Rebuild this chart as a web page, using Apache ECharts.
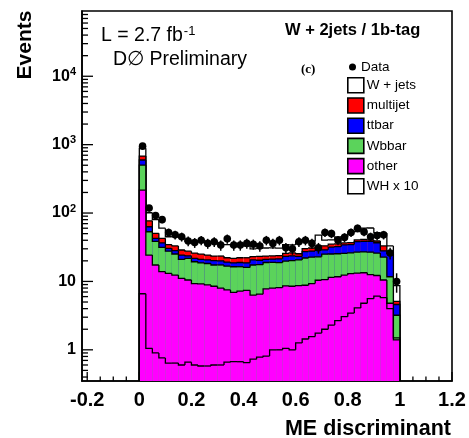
<!DOCTYPE html>
<html>
<head>
<meta charset="utf-8">
<script src="https://cdn.jsdelivr.net/npm/echarts@6/dist/echarts.min.js"></script>
<style>
  html, body { margin: 0; padding: 0; background: #fff; }
  #chart { width: 469px; height: 438px; }
</style>
</head>
<body>
<div id="chart"></div>
<script>
// Histogram binning of the ME discriminant: 40 bins from 0 to 1
const binLow = 0;
const binWidth = 0.025;

// Observed events per bin
const dataCounts = [950, 118, 92, 80, 52, 48, 45, 39, 37, 40, 36, 38, 34, 42, 34, 34, 36, 35, 33, 40,
                    36, 40, 31, 30, 38, 40, 36, 31, 52, 50, 40, 44, 52, 60, 53, 45, 47, 48, 26, 10];

// Expected background per bin, one array per sample (stacked bottom to top)
const otherBkg = [217, 24.3, 17.4, 13.9, 13.1, 12.4, 11.1, 10.5, 9.3, 9.2, 8.9, 8.5, 8.0, 7.5, 6.9, 7.2, 7.4, 6.3, 6.5, 7.8,
                  8.0, 8.1, 8.6, 8.5, 8.7, 8.8, 9.3, 10.4, 10.6, 11.5, 11.7, 12.4, 13.0, 13.2, 13.4, 12.6, 12.2, 10.5, 4.8, 1.4];
const wbbBkg = [286, 29.0, 21.1, 17.5, 14.6, 12.8, 9.9, 11.3, 10.1, 9.5, 9.4, 8.9, 9.4, 9.2, 9.5, 9.2, 8.6, 11.1, 11.1, 11.1,
                11.0, 10.7, 11.2, 11.7, 11.9, 13.2, 13.4, 12.5, 14.4, 13.7, 13.7, 13.4, 13.2, 13.7, 13.6, 14.2, 13.8, 12.2, 6.9, 1.8];
const ttbarBkg = [93, 9.7, 4.2, 5.1, 2.8, 3.0, 3.3, 1.9, 2.4, 2.3, 2.3, 2.8, 2.6, 2.5, 2.3, 2.5, 2.7, 3.2, 2.8, 2.1,
                  2.2, 2.6, 3.5, 3.4, 2.6, 5.3, 5.1, 5.9, 4.0, 6.6, 6.8, 8.5, 8.4, 11.4, 11.6, 11.6, 10.8, 5.3, 14.0, 1.4];
const multijetBkg = [85, 14.0, 7.8, 6.2, 4.0, 4.8, 4.5, 4.0, 4.2, 4.1, 3.7, 3.3, 3.5, 3.0, 3.1, 3.3, 3.5, 2.4, 2.8, 2.5,
                     2.4, 2.4, 2.5, 2.6, 2.2, 2.9, 3.0, 4.0, 4.2, 3.2, 3.2, 2.3, 2.4, 2.2, 2.4, 2.2, 2.2, 5.0, 1.8, 0.5];
const wjetsBkg = [202, 24.0, 29.5, 17.3, 10.5, 12.0, 15.2, 10.8, 12.5, 13.4, 12.2, 13.0, 11.0, 12.3, 11.2, 10.8, 10.8, 7.0, 7.3, 7.3,
                  7.4, 6.8, 8.7, 8.0, 13.1, 8.6, 7.7, 14.9, 7.1, 5.5, 9.2, 8.2, 16.0, 13.0, 19.0, 19.8, 12.5, 18.0, 5.5, 3.6];

// WH signal scaled by 10, drawn as an outline
const whTimes10 = [6.6, 1.05, 0.90, 0.76, 0.64, 0.64, 0.60, 0.66, 0.60, 0.58, 0.58, 0.60, 0.60, 0.66, 0.67, 0.67, 0.65, 0.73, 0.78, 0.81,
                   1.0, 1.0, 1.05, 1.0, 1.26, 1.44, 1.56, 1.76, 2.0, 2.3, 2.67, 3.05, 3.45, 4.1, 4.8, 5.6, 6.1, 5.8, 4.0, 1.5];

// Axis ranges and tick labels
const X_MIN = -0.22, X_MAX = 1.2;
const Y_MIN = 0.35, Y_MAX = 9e4;
const xTickLabels = [-0.2, 0, 0.2, 0.4, 0.6, 0.8, 1, 1.2];
const yTickLabels = [1, 10, 100, 1000, 10000];

const FONT = 'Liberation Sans, Arial, Helvetica, sans-serif';
const nBins = dataCounts.length;

// Minor tick positions (0.05 steps on x, 2..9 per decade on y)
const xMinorTicks = [];
for (let k = -4; k <= 24; k++) {
  if (k % 4 !== 0) xMinorTicks.push(+(k * 0.05).toFixed(2));
}
const yMinorTicks = [];
for (let d = -1; d <= 4; d++) {
  for (let m = 2; m <= 9; m++) {
    const v = m * Math.pow(10, d);
    if (v > Y_MIN && v < Y_MAX) yMinorTicks.push(v);
  }
}

// Stacked samples, bottom first
const layers = [
  { name: 'other',    color: '#ff00ff', values: otherBkg },
  { name: 'Wbbar',    color: '#5bd35b', values: wbbBkg },
  { name: 'ttbar',    color: '#0000ff', values: ttbarBkg },
  { name: 'multijet', color: '#ff0000', values: multijetBkg },
  { name: 'W + jets', color: '#ffffff', values: wjetsBkg }
];
let running = new Array(nBins).fill(0);
layers.forEach(l => {
  running = running.map((s, i) => s + l.values[i]);
  l.tops = running.slice();
});

function binEdges(i) {
  const x0 = binLow + i * binWidth;
  return [x0, x0 + binWidth];
}

// Each bin: filled column down to the axis floor plus the step outline
function histSeries(name, color, tops, filled) {
  return {
    type: 'custom',
    name: name,
    silent: true,
    itemStyle: { color: color },
    encode: { x: [0, 1], y: [2, 3] },
    data: tops.map((v, i) => {
      const e = binEdges(i);
      return [e[0], e[1], v, i > 0 ? tops[i - 1] : Y_MIN];
    }),
    renderItem: function (params, api) {
      const x0 = api.value(0), x1 = api.value(1);
      const top = api.value(2), prev = api.value(3);
      const pA = api.coord([x0, top]);
      const pB = api.coord([x1, top]);
      const pBase = api.coord([x1, Y_MIN]);
      const pPrev = api.coord([x0, prev]);
      const children = [];
      if (filled) {
        children.push({
          type: 'rect',
          shape: { x: pA[0], y: pA[1], width: pB[0] - pA[0], height: pBase[1] - pA[1] },
          style: { fill: color, stroke: null }
        });
      }
      const pts = [pPrev, pA, pB];
      if (params.dataIndex === tops.length - 1) pts.push(pBase);
      children.push({
        type: 'polyline',
        shape: { points: pts },
        style: { stroke: '#000', lineWidth: 1.3, fill: null }
      });
      return { type: 'group', children: children };
    }
  };
}

// Axis tick marks drawn inward from the left and bottom frame
const tickSeries = {
  type: 'custom',
  silent: true,
  encode: { x: 0, y: 1 },
  data: [[X_MIN, Y_MIN]],
  renderItem: function (params, api) {
    const lines = [];
    const add = (p, dx, dy) => lines.push({
      type: 'line',
      shape: { x1: p[0], y1: p[1], x2: p[0] + dx, y2: p[1] + dy },
      style: { stroke: '#000', lineWidth: 1.3 }
    });
    yTickLabels.forEach(v => add(api.coord([X_MIN, v]), 11, 0));
    yMinorTicks.forEach(v => add(api.coord([X_MIN, v]), 6, 0));
    xTickLabels.forEach(v => add(api.coord([v, Y_MIN]), 0, -9));
    xMinorTicks.forEach(v => add(api.coord([v, Y_MIN]), 0, -4.5));
    return { type: 'group', children: lines };
  }
};

// Data points with Poisson error bars and bin-width horizontal bars
const dataSeries = {
  type: 'custom',
  name: 'Data',
  silent: true,
  itemStyle: { color: '#000' },
  encode: { x: 0, y: 1 },
  data: dataCounts.map((n, i) => [binLow + (i + 0.5) * binWidth, n]),
  renderItem: function (params, api) {
    const xc = api.value(0), n = api.value(1);
    const err = Math.sqrt(n);
    const c = api.coord([xc, n]);
    const lo = api.coord([xc, Math.max(n - err, Y_MIN)]);
    const hi = api.coord([xc, n + err]);
    const l = api.coord([xc - binWidth / 2, n]);
    const r = api.coord([xc + binWidth / 2, n]);
    const st = { stroke: '#000', lineWidth: 1.5 };
    return {
      type: 'group',
      children: [
        { type: 'line', shape: { x1: lo[0], y1: lo[1], x2: hi[0], y2: hi[1] }, style: st },
        { type: 'line', shape: { x1: l[0], y1: l[1], x2: r[0], y2: r[1] }, style: st },
        { type: 'circle', shape: { cx: c[0], cy: c[1], r: 3.8 }, style: { fill: '#000' } }
      ]
    };
  }
};

const stackSeries = layers.slice().reverse().map(l => histSeries(l.name, l.color, l.tops, true));

const option = {
  animation: false,
  backgroundColor: '#fff',
  grid: {
    left: 82, right: 17, top: 11, bottom: 57,
    show: true, borderColor: '#000', borderWidth: 1.6, backgroundColor: 'transparent'
  },
  xAxis: {
    type: 'value',
    min: X_MIN, max: X_MAX,
    axisLine: { show: true, onZero: false, lineStyle: { color: '#000', width: 1.6 } },
    axisTick: { show: false },
    splitLine: { show: false },
    axisLabel: {
      customValues: xTickLabels,
      color: '#000', fontSize: 20, fontWeight: 'bold', fontFamily: FONT, margin: 9,
      formatter: v => String(+v.toFixed(2))
    }
  },
  yAxis: {
    type: 'log',
    logBase: 10,
    min: Y_MIN, max: Y_MAX,
    axisLine: { show: true, onZero: false, lineStyle: { color: '#000', width: 1.6 } },
    axisTick: { show: false },
    splitLine: { show: false },
    minorTick: { show: false },
    axisLabel: {
      showMinLabel: false, showMaxLabel: false,
      margin: 6,
      formatter: function (v) {
        const lg = Math.log10(v);
        const k = Math.round(lg);
        if (Math.abs(lg - k) > 1e-6 || yTickLabels.indexOf(Math.pow(10, k)) < 0) return '';
        if (k === 0) return '{b|1}';
        if (k === 1) return '{b|10}';
        return '{b|10}{s|' + k + '}';
      },
      rich: {
        b: { fontSize: 16, fontWeight: 'bold', fontFamily: FONT, color: '#000' },
        s: { fontSize: 11, fontWeight: 'bold', fontFamily: FONT, color: '#000', padding: [0, 0, 9, 0] }
      }
    }
  },
  legend: [
    {
      data: [{ name: 'Data', icon: 'circle' }],
      left: 349, top: 60, padding: 0,
      itemWidth: 7, itemHeight: 7,
      selectedMode: false,
      textStyle: { fontSize: 13.5, fontFamily: FONT, color: '#000' }
    },
    {
      data: ['W + jets', 'multijet', 'ttbar', 'Wbbar', 'other', 'WH x 10'],
      orient: 'vertical',
      left: 347, top: 77, padding: 0,
      itemWidth: 16, itemHeight: 15, itemGap: 3.6,
      icon: 'rect',
      selectedMode: false,
      itemStyle: { borderColor: '#000', borderWidth: 1.6 },
      textStyle: { fontSize: 13.5, fontFamily: FONT, color: '#000', padding: [0, 0, 0, -2] }
    }
  ],
  graphic: [
    {
      type: 'text', x: 25, y: 45, rotation: Math.PI / 2,
      style: { text: 'Events', font: 'bold 21px ' + FONT, fill: '#000', align: 'center', verticalAlign: 'middle' }
    },
    {
      type: 'text', x: 451, y: 429,
      style: { text: 'ME discriminant', font: 'bold 21.5px ' + FONT, fill: '#000', align: 'right', verticalAlign: 'middle' }
    },
    {
      type: 'text', x: 101, y: 36,
      style: {
        text: '{n|L = 2.7 fb}{s|-1}',
        align: 'left', verticalAlign: 'middle',
        rich: {
          n: { fontSize: 19.5, fontFamily: FONT, fill: '#000' },
          s: { fontSize: 13, fontFamily: FONT, fill: '#000', padding: [0, 0, 10, 1] }
        }
      }
    },
    {
      type: 'text', x: 113, y: 60,
      style: { text: 'D\u2205 Preliminary', font: '19.5px ' + FONT, fill: '#000', align: 'left', verticalAlign: 'middle' }
    },
    {
      type: 'text', x: 285, y: 30,
      style: { text: 'W + 2jets / 1b-tag', font: 'bold 16.5px ' + FONT, fill: '#000', align: 'left', verticalAlign: 'middle' }
    },
    {
      type: 'text', x: 301, y: 70,
      style: { text: '(c)', font: 'bold 13px Liberation Serif, DejaVu Serif, serif', fill: '#000', align: 'left', verticalAlign: 'middle' }
    }
  ],
  series: [tickSeries].concat(stackSeries).concat([
    histSeries('WH x 10', '#ffffff', whTimes10, false),
    dataSeries
  ])
};

const chart = echarts.init(document.getElementById('chart'), null, { renderer: 'canvas' });
chart.setOption(option);
</script>
</body>
</html>
